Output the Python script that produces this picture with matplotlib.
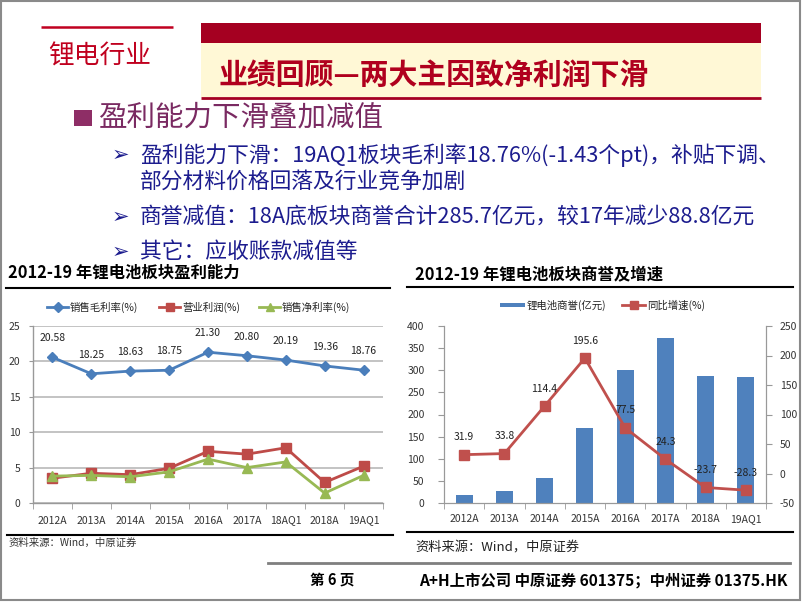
import matplotlib
matplotlib.use("Agg")
import matplotlib.pyplot as plt
from matplotlib.patches import Rectangle
from matplotlib.lines import Line2D

plt.rcParams['font.family'] = ['Noto Sans CJK SC', 'DejaVu Sans']
plt.rcParams['axes.unicode_minus'] = False

# ---------------- data ----------------
cats_left = ['2012A', '2013A', '2014A', '2015A', '2016A', '2017A', '18AQ1', '2018A', '19AQ1']
gross_margin = [20.58, 18.25, 18.63, 18.75, 21.30, 20.80, 20.19, 19.36, 18.76]
op_profit = [3.5, 4.2, 4.0, 4.9, 7.3, 6.9, 7.8, 2.9, 5.2]
net_margin = [3.8, 3.9, 3.7, 4.4, 6.2, 5.0, 5.8, 1.4, 3.9]
left_yticks = [0, 5, 10, 15, 20, 25]

cats_right = ['2012A', '2013A', '2014A', '2015A', '2016A', '2017A', '2018A', '19AQ1']
goodwill = [19, 26, 56, 170, 300, 374, 286, 284]
growth = [31.9, 33.8, 114.4, 195.6, 77.5, 24.3, -23.7, -28.3]
right_yticks_l = [0, 50, 100, 150, 200, 250, 300, 350, 400]
right_yticks_r = [-50, 0, 50, 100, 150, 200, 250]

header_tag = '锂电行业'
title = '业绩回顾—两大主因致净利润下滑'
section = '盈利能力下滑叠加减值'
bullets = [
    ['盈利能力下滑：19AQ1板块毛利率18.76%(-1.43个pt)，补贴下调、', '部分材料价格回落及行业竞争加剧'],
    ['商誉减值：18A底板块商誉合计285.7亿元，较17年减少88.8亿元'],
    ['其它：应收账款减值等'],
]
left_title = '2012-19 年锂电池板块盈利能力'
right_title = '2012-19 年锂电池板块商誉及增速'
left_legend = ['销售毛利率(%)', '营业利润(%)', '销售净利率(%)']
right_legend = ['锂电池商誉(亿元)', '同比增速(%)']
source = '资料来源：Wind，中原证券'
page = '第 6 页'
footer = 'A+H上市公司 中原证券 601375；中州证券 01375.HK'

# ---------------- figure ----------------
W, H = 802, 602
fig = plt.figure(figsize=(W / 100, H / 100), dpi=100)
fig.patch.set_facecolor('white')


def px(x0, y0, x1, y1):
    return [x0 / W, 1 - y1 / H, (x1 - x0) / W, (y1 - y0) / H]


bg = fig.add_axes([0, 0, 1, 1])
bg.set_xlim(0, W)
bg.set_ylim(H, 0)
bg.axis('off')

# slide border
bg.add_patch(Rectangle((1, 1), W - 3, H - 3, fill=False, ec='#8a8a8a', lw=1.5))

# header
bg.plot([41, 173], [27, 27], color='#C00020', lw=1.8, solid_capstyle='butt')
bg.text(48, 57, header_tag, fontsize=18.5, color='#C0001E', va='center', ha='left')
bg.add_patch(Rectangle((201, 23), 560, 20, fc='#A50021', ec='none'))
bg.add_patch(Rectangle((201, 43), 560, 54, fc='#FFF8D6', ec='none'))
bg.plot([201, 761], [98, 98], color='#A50021', lw=2, solid_capstyle='butt')
bg.text(218, 75, title, fontsize=20.8, color='#B0001E', va='center', ha='left', weight='bold')

# section heading
bg.add_patch(Rectangle((74, 110), 18, 16, fc='#8E2E66', ec='none'))
bg.text(98, 118, section, fontsize=20.5, color='#7A2A62', va='center', ha='left')

navy = '#1C1C8E'
ys = [[155, 182], [217], [252]]
for lines, yy in zip(bullets, ys):
    bg.text(112, yy[0], '➢', fontsize=15, color=navy, va='center', ha='left',
            family=['DejaVu Sans'], weight='bold')
    for ln, y in zip(lines, yy):
        bg.text(140, y, ln, fontsize=15.7, color=navy, va='center', ha='left')

# ---------------- left chart ----------------
bg.text(8, 273, left_title, fontsize=11.8, weight='bold', va='center', ha='left', color='black')
bg.plot([6, 390], [288, 288], color='black', lw=1.5)
bg.plot([7, 393], [535, 535], color='black', lw=1.5)
bg.text(9, 543, source, fontsize=7.5, color='#333333', va='center', ha='left')

c_blue, c_red, c_green = '#4A7EBB', '#BE4B48', '#98B954'
leg_items = [(47, c_blue, 'D', 5, left_legend[0]),
             (159, c_red, 's', 6, left_legend[1]),
             (259, c_green, '^', 6, left_legend[2])]
for x0, c, m, ms, lab in leg_items:
    bg.add_line(Line2D([x0, x0 + 21], [307, 307], color=c, lw=2))
    bg.add_line(Line2D([x0 + 10.5], [307], color=c, marker=m, ms=ms, lw=0))
    bg.text(x0 + 23, 307, lab, fontsize=7.5, color='#222222', va='center', ha='left')

ax1 = fig.add_axes(px(33, 326, 383, 503))
x1 = list(range(len(cats_left)))
ax1.plot(x1, gross_margin, color=c_blue, lw=2, marker='D', ms=5, zorder=3, clip_on=False)
ax1.plot(x1, op_profit, color=c_red, lw=2, marker='s', ms=6.5, zorder=3, clip_on=False)
ax1.plot(x1, net_margin, color=c_green, lw=2, marker='^', ms=7, zorder=3, clip_on=False)
for xi, v in zip(x1, gross_margin):
    ax1.annotate(f'{v:.2f}', (xi, v), xytext=(0, 10), textcoords='offset points',
                 ha='center', va='bottom', fontsize=7.5, color='#222222')
ax1.set_xlim(-0.5, len(cats_left) - 0.5)
ax1.set_ylim(0, 25)
ax1.set_yticks(left_yticks)
ax1.set_xticks(x1)
ax1.set_xticklabels(cats_left)
ax1.set_xticks([i - 0.5 for i in range(len(cats_left) + 1)], minor=True)
ax1.grid(axis='y', color='#b3b3b3', lw=1.1)
ax1.set_axisbelow(True)
for s in ['top', 'right']:
    ax1.spines[s].set_visible(False)
for s in ['left', 'bottom']:
    ax1.spines[s].set_color('#999999')
    ax1.spines[s].set_linewidth(1)
ax1.tick_params(axis='x', which='major', length=0, pad=9, labelsize=7.5, labelcolor='#333333')
ax1.tick_params(axis='x', which='minor', length=4, color='#999999')
ax1.tick_params(axis='y', length=3, color='#999999', pad=6, labelsize=7.5, labelcolor='#333333')

# ---------------- right chart ----------------
bg.text(415, 275, right_title, fontsize=11.8, weight='bold', va='center', ha='left', color='black')
bg.plot([407, 793], [287, 287], color='black', lw=1.5)
bg.plot([407, 793], [532, 532], color='black', lw=1.5)
bg.text(415, 548, source, fontsize=9.5, color='#222222', va='center', ha='left')

c_bar, c_line = '#4F81BD', '#C0504D'
bg.add_patch(Rectangle((500, 303), 25, 4, fc=c_bar, ec='none'))
bg.text(527, 305, right_legend[0], fontsize=7.5, color='#222222', va='center', ha='left')
bg.add_line(Line2D([622, 645], [305, 305], color=c_line, lw=2))
bg.add_line(Line2D([633.5], [305], color=c_line, marker='s', ms=6, lw=0))
bg.text(647, 305, right_legend[1], fontsize=7.5, color='#222222', va='center', ha='left')

ax2 = fig.add_axes(px(444, 326, 766, 503))
x2 = list(range(len(cats_right)))
ax2.bar(x2, goodwill, width=0.42, color=c_bar, zorder=2)
ax2.set_xlim(-0.5, len(cats_right) - 0.5)
ax2.set_ylim(0, 400)
ax2.set_yticks(right_yticks_l)
ax2.set_xticks(x2)
ax2.set_xticklabels(cats_right)
ax2.set_xticks([i - 0.5 for i in range(len(cats_right) + 1)], minor=True)
ax2.spines['top'].set_visible(False)
for s in ['left', 'bottom', 'right']:
    ax2.spines[s].set_color('#999999')
ax2.tick_params(axis='x', which='major', length=0, pad=8, labelsize=7.5, labelcolor='#333333')
ax2.tick_params(axis='x', which='minor', length=4, color='#999999')
ax2.tick_params(axis='y', length=4, color='#999999', pad=10, labelsize=7.5, labelcolor='#333333')

ax2r = ax2.twinx()
ax2r.plot(x2, growth, color=c_line, lw=2, marker='s', ms=7, zorder=3)
for xi, v in zip(x2, growth):
    ax2r.annotate(f'{v:.1f}', (xi, v), xytext=(0, 9), textcoords='offset points',
                  ha='center', va='bottom', fontsize=7.5, color='#222222')
ax2r.set_ylim(-50, 250)
ax2r.set_yticks(right_yticks_r)
ax2r.spines['top'].set_visible(False)
for s in ['left', 'bottom', 'right']:
    ax2r.spines[s].set_color('#999999')
ax2r.tick_params(axis='y', length=4, color='#999999', pad=6, labelsize=7.5, labelcolor='#333333')

# ---------------- footer ----------------
bg.plot([268, 790], [563, 563], color='#7f7f7f', lw=2)
bg.text(310, 580, page, fontsize=10.5, weight='bold', va='center', ha='left', color='black')
bg.text(419, 580, footer, fontsize=11.1, weight='bold', va='center', ha='left', color='black')

fig.savefig('out.png', dpi=100)
